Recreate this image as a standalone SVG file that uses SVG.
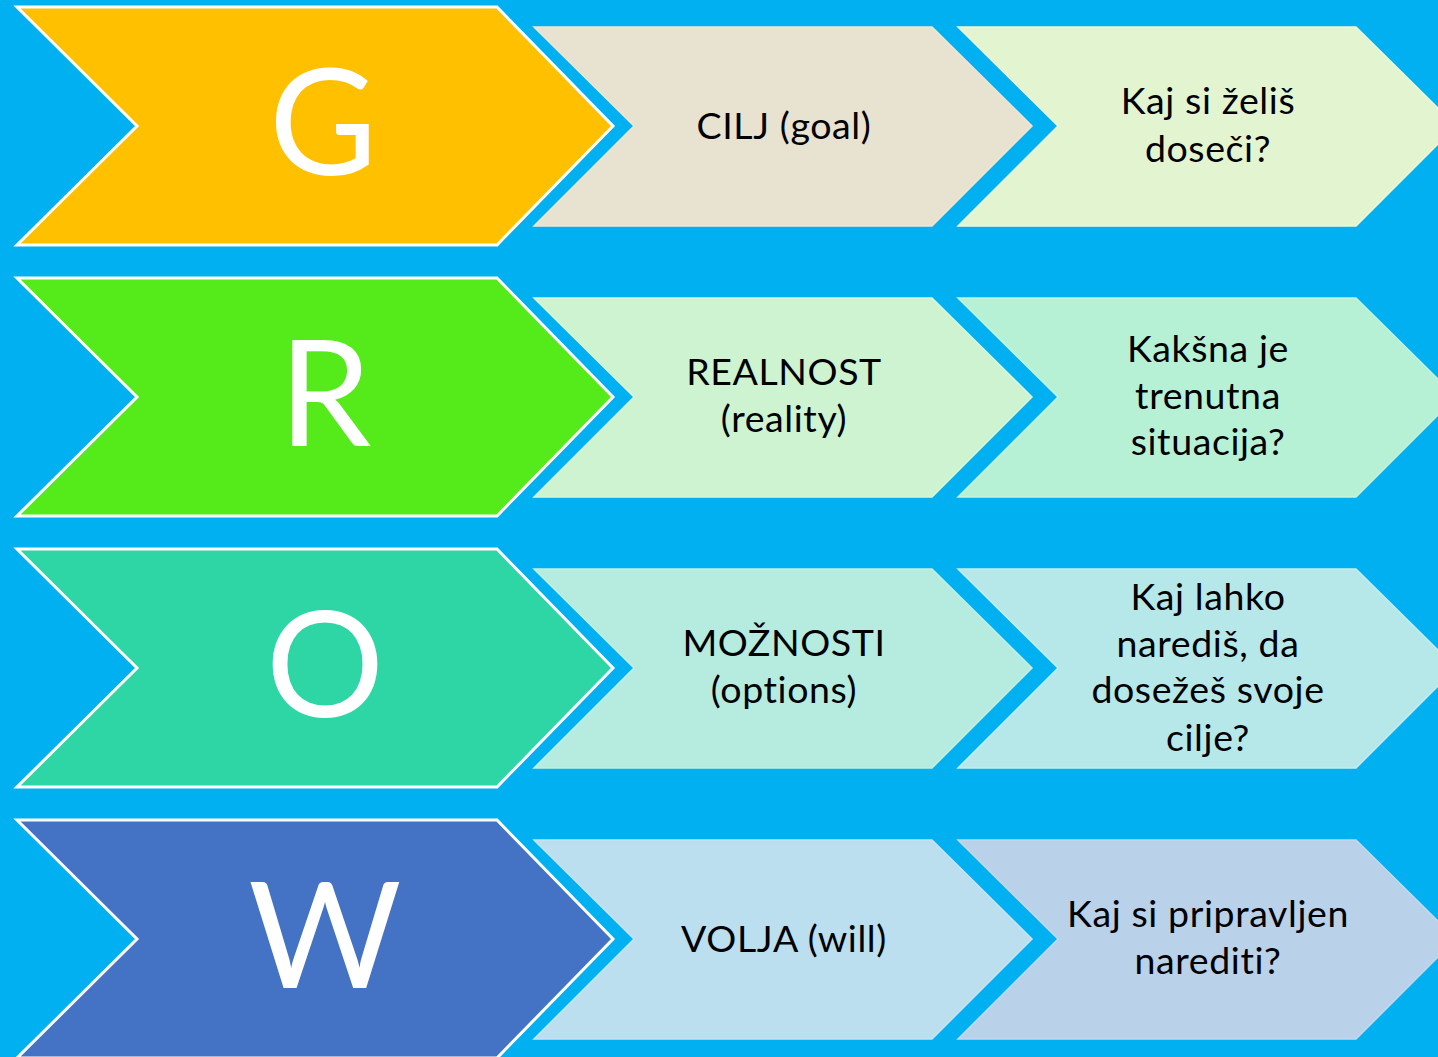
<svg xmlns="http://www.w3.org/2000/svg" width="1438" height="1057" viewBox="0 0 1438 1057">
<defs>
<style>
.big{stroke:#ffffff;stroke-width:3;stroke-linejoin:miter}
.mid{stroke-width:1.5}
.L{font-family:Lato,"Open Sans","Liberation Sans",sans-serif;font-size:148px;fill:#ffffff;text-anchor:middle}
.t{font-family:Lato,"Open Sans","Liberation Sans",sans-serif;font-size:37.5px;letter-spacing:0.6px;fill:#000000;text-anchor:middle}
</style>
</defs>
<rect x="0" y="0" width="1438" height="1057" fill="#00B0F0"/>
<g id="row-G">
<g id="G-letter"><polygon class="big" fill="#FFC000" points="17,7 497,7 613,126 497,245 17,245 137,126"/><text class="L" x="323" y="175">G</text></g>
<g id="G-label"><polygon class="mid" fill="#E8E2D0" stroke="#F0E6D2" points="534,27 932,27 1032,126 932,226 534,226 634,126"/><text class="t" x="784" y="139">CILJ (goal)</text></g>
<g id="G-question"><polygon class="mid" fill="#E3F5D0" stroke="#EEF9D8" points="958,27 1356,27 1456,126 1356,226 958,226 1058,126"/><text class="t" x="1208" y="114">Kaj si želiš</text><text class="t" x="1208" y="162">doseči?</text></g>
</g>
<g id="row-R">
<g id="R-letter"><polygon class="big" fill="#55EA1A" points="17,278 497,278 613,397 497,516 17,516 137,397"/><text class="L" x="325" y="446">R</text></g>
<g id="R-label"><polygon class="mid" fill="#CDF3D0" stroke="#D8F7D8" points="534,298 932,298 1032,397 932,497 534,497 634,397"/><text class="t" x="784" y="385">REALNOST</text><text class="t" x="784" y="432">(reality)</text></g>
<g id="R-question"><polygon class="mid" fill="#B6F0D5" stroke="#C2F4DC" points="958,298 1356,298 1456,397 1356,497 958,497 1058,397"/><text class="t" x="1208" y="362">Kakšna je</text><text class="t" x="1208" y="409">trenutna</text><text class="t" x="1208" y="455">situacija?</text></g>
</g>
<g id="row-O">
<g id="O-letter"><polygon class="big" fill="#2ED6A6" points="17,549 497,549 613,668 497,787 17,787 137,668"/><text class="L" x="325" y="717">O</text></g>
<g id="O-label"><polygon class="mid" fill="#B5ECDF" stroke="#C0F0E4" points="534,569 932,569 1032,668 932,768 534,768 634,668"/><text class="t" x="784" y="656">MOŽNOSTI</text><text class="t" x="784" y="703">(options)</text></g>
<g id="O-question"><polygon class="mid" fill="#B6E8EA" stroke="#C2EEF0" points="958,569 1356,569 1456,668 1356,768 958,768 1058,668"/><text class="t" x="1208" y="610">Kaj lahko</text><text class="t" x="1208" y="657">narediš, da</text><text class="t" x="1208" y="703">dosežeš svoje</text><text class="t" x="1208" y="751">cilje?</text></g>
</g>
<g id="row-W">
<g id="W-letter"><polygon class="big" fill="#4472C4" points="17,820 497,820 613,939 497,1058 17,1058 137,939"/><text class="L" x="325" y="988">W</text></g>
<g id="W-label"><polygon class="mid" fill="#BBDFEE" stroke="#C6E4F2" points="534,840 932,840 1032,939 932,1039 534,1039 634,939"/><text class="t" x="784" y="952">VOLJA (will)</text></g>
<g id="W-question"><polygon class="mid" fill="#BAD1EA" stroke="#C4D8EE" points="958,840 1356,840 1456,939 1356,1039 958,1039 1058,939"/><text class="t" x="1208" y="927">Kaj si pripravljen</text><text class="t" x="1208" y="974">narediti?</text></g>
</g>
<g id="connectors"/>
</svg>
